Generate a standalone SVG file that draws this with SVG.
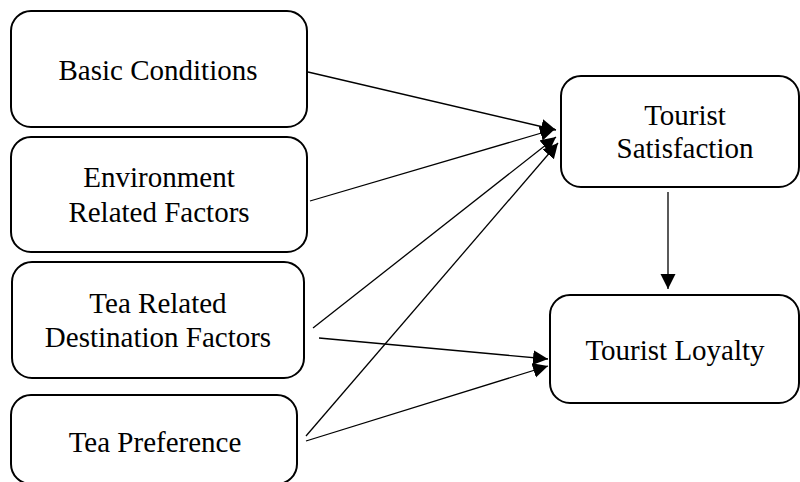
<svg xmlns="http://www.w3.org/2000/svg" width="800" height="482" viewBox="0 0 800 482">
  <style>
    .box { fill: #ffffff; stroke: #000000; stroke-width: 2; }
    .lbl { font-family: 'Liberation Serif', 'Times New Roman', serif; font-size: 29px; fill: #000000; text-anchor: middle; }
    .edge { stroke: #000000; stroke-width: 1.3; fill: none; marker-end: url(#arrow); }
  </style>
  <defs>
    <marker id="arrow" markerUnits="userSpaceOnUse" markerWidth="16" markerHeight="16" refX="15" refY="7.5" orient="auto">
      <path d="M0,0 L15,7.5 L0,15 Z" fill="#000000"/>
    </marker>
  </defs>

  <rect width="800" height="482" fill="#ffffff"/>

  <g id="connectors">
    <line class="edge" x1="308" y1="72" x2="556" y2="130"/>
    <line class="edge" x1="310" y1="201" x2="555" y2="129"/>
    <line class="edge" x1="313" y1="328" x2="556" y2="137"/>
    <line class="edge" x1="306" y1="436" x2="558" y2="143"/>
    <line class="edge" x1="319" y1="338" x2="548" y2="359"/>
    <line class="edge" x1="306" y1="441" x2="548" y2="366"/>
    <line class="edge" x1="668" y1="192" x2="668" y2="289"/>
  </g>

  <g id="basic-conditions">
    <rect class="box" x="11" y="11" width="296" height="116" rx="20"/>
    <text class="lbl" x="158" y="80">Basic Conditions</text>
  </g>

  <g id="environment-factors">
    <rect class="box" x="11" y="137" width="296" height="115" rx="20"/>
    <text class="lbl" x="159" y="187">Environment</text>
    <text class="lbl" x="159" y="222">Related Factors</text>
  </g>

  <g id="tea-destination-factors">
    <rect class="box" x="12" y="262" width="292" height="116" rx="20"/>
    <text class="lbl" x="158" y="313">Tea Related</text>
    <text class="lbl" x="158" y="347">Destination Factors</text>
  </g>

  <g id="tea-preference">
    <rect class="box" x="11" y="395" width="286" height="89" rx="20"/>
    <text class="lbl" x="155" y="452">Tea Preference</text>
  </g>

  <g id="tourist-satisfaction">
    <rect class="box" x="561" y="76" width="238" height="111" rx="20"/>
    <text class="lbl" x="685" y="125">Tourist</text>
    <text class="lbl" x="685" y="158">Satisfaction</text>
  </g>

  <g id="tourist-loyalty">
    <rect class="box" x="550" y="295" width="249" height="108" rx="20"/>
    <text class="lbl" x="675" y="360">Tourist Loyalty</text>
  </g>
</svg>
